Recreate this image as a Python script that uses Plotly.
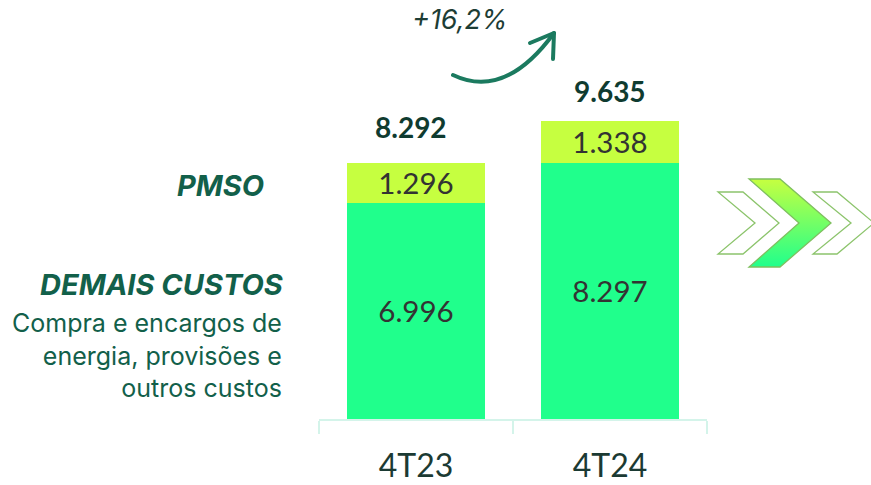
import base64
import plotly.graph_objects as go

# ---- data ----
categories = ["4T23", "4T24"]
demais_custos = [6996, 8297]
pmso = [1296, 1338]
totals = [d + p for d, p in zip(demais_custos, pmso)]
variation_label = "+16,2%"

W, H = 871, 485
C_DEMAIS = "#20FF8C"
C_PMSO = "#C6FF40"
DARK_GREEN = "#12604A"

fig = go.Figure()
fig.add_trace(go.Bar(
    x=categories, y=demais_custos, name="DEMAIS CUSTOS",
    marker=dict(color=C_DEMAIS, line=dict(width=0)),
    texttemplate="%{y:,.0f}", textposition="inside", insidetextanchor="middle",
    textfont=dict(family="Lato", size=29.5, color="#333333"), textangle=0,
    constraintext="none", hoverinfo="skip",
))
fig.add_trace(go.Bar(
    x=categories, y=pmso, name="PMSO",
    marker=dict(color=C_PMSO, line=dict(width=0)),
    texttemplate="%{y:,.0f}", textposition="inside", insidetextanchor="middle",
    textfont=dict(family="Lato", size=29.5, color="#333333"), textangle=0,
    constraintext="none", hoverinfo="skip",
))

# totals above bars
total_shift = [(-5, 36), (0, 30)]
for c, t, (dx, dy) in zip(categories, totals, total_shift):
    fig.add_annotation(
        x=c, y=t, xref="x", yref="y", text=f"<b>{t:,.0f}</b>".replace(",", "."),
        showarrow=False, xshift=dx, yshift=dy, yanchor="middle",
        font=dict(family="Lato", size=28, color="#0F3B30"),
    )

# left labels
fig.add_annotation(x=266 / W, y=1 - 185 / H, xref="paper", yref="paper",
                   text="<b><i>PMSO</i></b>", showarrow=False, xanchor="right", yanchor="middle",
                   font=dict(family="Inter", size=29, color=DARK_GREEN))
fig.add_annotation(x=286 / W, y=1 - 284 / H, xref="paper", yref="paper",
                   text="<b><i>DEMAIS CUSTOS</i></b>", showarrow=False, xanchor="right", yanchor="middle",
                   font=dict(family="Inter", size=29, color=DARK_GREEN))
fig.add_annotation(x=284 / W, y=1 - 355 / H, xref="paper", yref="paper",
                   text="Compra e encargos de<br>energia, provisões e<br>outros custos",
                   showarrow=False, xanchor="right", yanchor="middle", align="right",
                   font=dict(family="Inter", size=25, color=DARK_GREEN))

# variation label
fig.add_annotation(x=459 / W, y=1 - 20 / H, xref="paper", yref="paper",
                   text=f"<i>{variation_label}</i>", showarrow=False, xanchor="center", yanchor="middle",
                   font=dict(family="Inter", size=27, color="#1D3D35"))

# decorative overlay: curved arrow + chevrons (SVG)
svg = f"""<svg xmlns="http://www.w3.org/2000/svg" width="{W}" height="{H}" viewBox="0 0 {W} {H}">
<defs><linearGradient id="g" x1="0" y1="0" x2="0" y2="1">
<stop offset="0" stop-color="#C6FF40"/><stop offset="1" stop-color="#20FF8C"/></linearGradient></defs>
<path d="M453,75 Q505,100 554,33" fill="none" stroke="#1B7A5F" stroke-width="4" stroke-linecap="round"/>
<path d="M530,43 L554,33 L553,59" fill="none" stroke="#1B7A5F" stroke-width="4" stroke-linecap="round" stroke-linejoin="round"/>
<polygon points="718,192 743,192 779,223 743,254 718,254 755,223" fill="none" stroke="#8CC46C" stroke-width="1.3"/>
<polygon points="813,192 837,192 874,223 837,254 813,254 851,223" fill="none" stroke="#8CC46C" stroke-width="1.3"/>
<polygon points="749,179 780,179 831,223 780,267 749,267 799,223" fill="url(#g)" stroke="#7FBF5F" stroke-width="1.3"/>
</svg>"""
src = "data:image/svg+xml;base64," + base64.b64encode(svg.encode()).decode()
fig.add_layout_image(dict(source=src, xref="paper", yref="paper", x=0, y=1, sizex=1, sizey=1,
                          xanchor="left", yanchor="top", sizing="stretch", layer="above"))

px_per_unit = 0.0309
fig.update_layout(
    width=W, height=H, margin=dict(l=0, r=0, t=0, b=0),
    paper_bgcolor="white", plot_bgcolor="white",
    barmode="stack", bargap=0.284, showlegend=False,
    separators=",.",
    xaxis=dict(domain=[319 / W, 707 / W], showgrid=False, zeroline=False,
               showline=True, linecolor="#D4F4EA", linewidth=2,
               ticks="outside", tickson="boundaries", ticklen=13, tickwidth=2, tickcolor="#D4F4EA",
               ticklabelstandoff=18,
               tickfont=dict(family="Lato", size=32, color="#1B3A33")),
    yaxis=dict(domain=[(H - 419) / H, 1], range=[0, 419 / px_per_unit], visible=False,
               showgrid=False, zeroline=False),
)

fig.write_html("out.html", config={"displayModeBar": False},
               post_script="document.body.style.margin='0';document.body.style.overflow='hidden';")
